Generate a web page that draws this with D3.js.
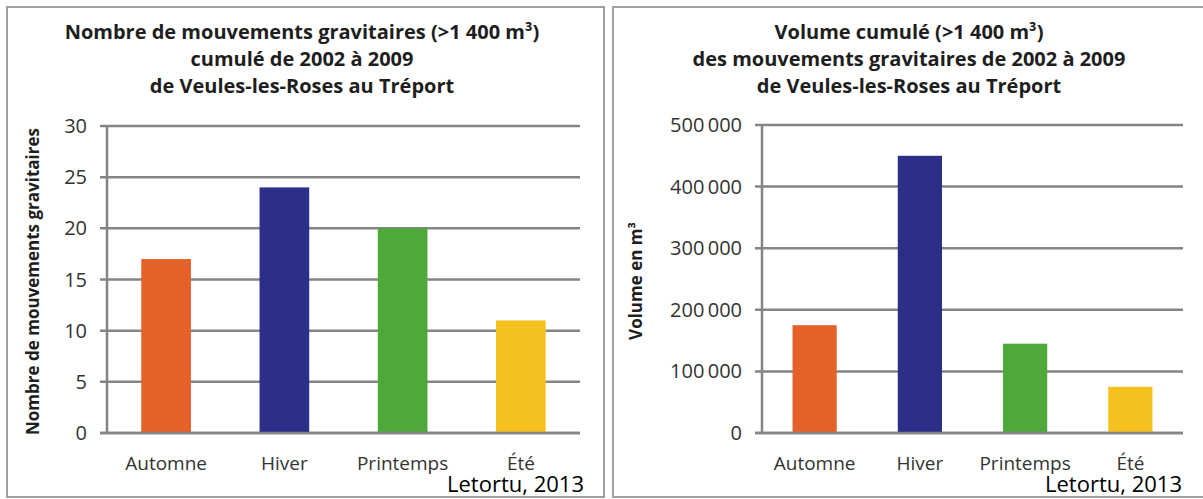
<!DOCTYPE html>
<html lang="fr">
<head>
<meta charset="utf-8">
<script src="https://cdn.jsdelivr.net/npm/d3@7"></script>
<style>
  html, body { margin: 0; padding: 0; background: #fff; }
  svg { display: block; }
  text { font-family: "Open Sans", "DejaVu Sans", sans-serif; }
</style>
</head>
<body>
<svg id="chart" width="1203" height="499"></svg>
<script>
// Saisons (catégories communes aux deux graphiques)
const seasons = ["Automne", "Hiver", "Printemps", "Été"];
const seasonColors = ["#e4622a", "#2c2f88", "#4fa83a", "#f5c11e"];

// Nombre de mouvements gravitaires cumulé 2002-2009
const countValues = [17, 24, 20, 11];
const countTicks = [0, 5, 10, 15, 20, 25, 30];

// Volume cumulé (m³) 2002-2009
const volumeValues = [175000, 450000, 145000, 75000];
const volumeTicks = [0, 100000, 200000, 300000, 400000, 500000];

const countTitle = [
  "Nombre de mouvements gravitaires (>1 400 m³)",
  "cumulé de 2002 à 2009",
  "de Veules-les-Roses au Tréport"
];
const volumeTitle = [
  "Volume cumulé (>1 400 m³)",
  "des mouvements gravitaires de 2002 à 2009",
  "de Veules-les-Roses au Tréport"
];
const source = "Letortu, 2013";

const svg = d3.select("#chart");
const gridColor = "#858585";

// Format des milliers avec espace fine (ex. 500 000)
const frFormat = d3.formatLocale({
  decimal: ",", thousands: "\u2009", grouping: [3], currency: ["", " €"]
}).format(",d");

function drawPanel(opts) {
  const g = svg.append("g");

  // Cadre du panneau
  g.append("rect")
    .attr("x", opts.frame[0]).attr("y", opts.frame[1])
    .attr("width", opts.frame[2]).attr("height", opts.frame[3])
    .attr("fill", "none").attr("stroke", "#a0a0a0").attr("stroke-width", 2);

  // Titre
  g.append("text")
    .attr("x", opts.titleX).attr("y", 39)
    .attr("text-anchor", "middle")
    .attr("font-size", 20).attr("font-weight", 700).attr("fill", "#1e1e1e")
    .selectAll("tspan").data(opts.title).join("tspan")
    .attr("x", opts.titleX).attr("dy", (d, i) => i === 0 ? 0 : 27)
    .text(d => d);

  const x = d3.scaleBand().domain(seasons)
    .range([opts.left, opts.right]).paddingInner(0.58).paddingOuter(0.29);
  const y = d3.scaleLinear().domain([0, opts.max]).range([opts.bottom, opts.top]);

  // Quadrillage horizontal
  g.append("g").selectAll("line").data(opts.ticks).join("line")
    .attr("x1", opts.left - 7).attr("x2", opts.right)
    .attr("y1", d => y(d)).attr("y2", d => y(d))
    .attr("stroke", gridColor).attr("stroke-width", 2.5);

  // Axe vertical
  g.append("line")
    .attr("x1", opts.left).attr("x2", opts.left)
    .attr("y1", y(opts.max)).attr("y2", opts.bottom + 1)
    .attr("stroke", gridColor).attr("stroke-width", 2.5);

  // Barres
  g.append("g").selectAll("rect").data(opts.values).join("rect")
    .attr("x", (d, i) => x(seasons[i]))
    .attr("width", x.bandwidth())
    .attr("y", d => y(d))
    .attr("height", d => opts.bottom - y(d))
    .attr("fill", (d, i) => seasonColors[i]);

  // Axe des x redessiné par-dessus les barres
  g.append("line")
    .attr("x1", opts.left - 7).attr("x2", opts.right)
    .attr("y1", opts.bottom).attr("y2", opts.bottom)
    .attr("stroke", gridColor).attr("stroke-width", 2.5);

  // Étiquettes des graduations
  g.append("g").selectAll("text").data(opts.ticks).join("text")
    .attr("x", opts.left - 20).attr("y", d => y(d))
    .attr("dy", "0.35em").attr("text-anchor", "end")
    .attr("font-size", 20).attr("fill", "#333")
    .text(d => opts.fmt(d));

  // Étiquettes des saisons
  g.append("g").selectAll("text").data(seasons).join("text")
    .attr("x", d => x(d) + x.bandwidth() / 2).attr("y", opts.bottom + 37)
    .attr("text-anchor", "middle")
    .attr("font-size", 19).attr("fill", "#333")
    .text(d => d);

  // Titre de l'axe vertical
  g.append("text")
    .attr("transform", `translate(${opts.yTitleX},${(opts.top + opts.bottom) / 2 + 2}) rotate(-90)`)
    .attr("text-anchor", "middle").attr("dy", "0.35em")
    .attr("font-size", 17).attr("font-weight", 700).attr("fill", "#1e1e1e")
    .text(opts.yTitle);

  // Source
  g.append("text")
    .attr("x", opts.sourceX).attr("y", 492)
    .attr("text-anchor", "end")
    .attr("font-size", 22).attr("fill", "#000")
    .text(source);
}

drawPanel({
  frame: [7, 7, 597, 490],
  title: countTitle, titleX: 302,
  values: countValues, ticks: countTicks, max: 30, fmt: d => String(d),
  left: 107, right: 580, top: 126, bottom: 433,
  yTitle: "Nombre de mouvements gravitaires", yTitleX: 33,
  sourceX: 584
});

drawPanel({
  frame: [613, 7, 600, 490],
  title: volumeTitle, titleX: 909,
  values: volumeValues, ticks: volumeTicks, max: 500000, fmt: frFormat,
  left: 762, right: 1183, top: 125, bottom: 433,
  yTitle: "Volume en m³", yTitleX: 636,
  sourceX: 1182
});
</script>
</body>
</html>
